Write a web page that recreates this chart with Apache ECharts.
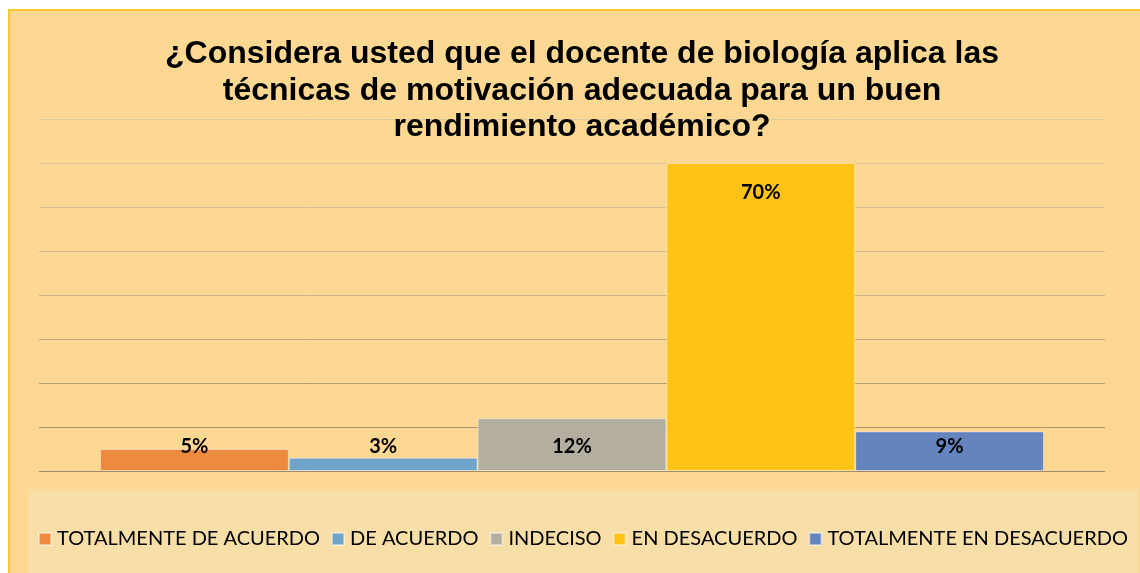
<!DOCTYPE html>
<html>
<head>
<meta charset="utf-8">
<script src="https://cdn.jsdelivr.net/npm/echarts@6/dist/echarts.min.js"></script>
<style>
html,body{margin:0;padding:0;background:#ffffff;}
#chart{width:1140px;height:573px;}
</style>
</head>
<body>
<div id="chart"></div>
<script>
var categories = [''];
var seriesNames = ['TOTALMENTE DE ACUERDO', 'DE ACUERDO', 'INDECISO', 'EN DESACUERDO', 'TOTALMENTE EN DESACUERDO'];
var seriesValues = [5, 3, 12, 70, 9];
var seriesColors = ['#EE8A3D', '#72A4C9', '#B3AEA0', '#FFC317', '#6584BD'];
var titleText = '¿Considera usted que el docente de biología aplica las\ntécnicas de motivación adecuada para un buen\nrendimiento académico?';

var chart = echarts.init(document.getElementById('chart'), null, {renderer: 'canvas'});

var series = seriesNames.map(function (name, i) {
  var big = seriesValues[i] > 20;
  return {
    name: name,
    type: 'bar',
    data: [seriesValues[i]],
    barGap: '0%',
    barCategoryGap: '11.45%',
    itemStyle: {color: seriesColors[i], borderColor: 'rgba(255,255,255,0.45)', borderWidth: 1},
    label: {
      show: true,
      position: big ? 'insideTop' : 'insideBottom',
      distance: big ? 20 : 14,
      formatter: '{c}%',
      fontFamily: 'Lato',
      fontWeight: 'bold',
      fontSize: 20,
      color: '#000000'
    }
  };
});

var option = {
  animation: false,
  backgroundColor: 'transparent',
  graphic: [
    {type: 'rect', z: -10, shape: {x: 9, y: 10, width: 1140, height: 570},
     style: {fill: '#FDD893', stroke: '#FFC72C', lineWidth: 2}},
    {type: 'rect', z: -9, shape: {x: 28, y: 489, width: 1110, height: 90},
     style: {fill: '#F8DFA8'}}
  ],
  title: {
    text: titleText,
    left: 577,
    top: 31,
    textAlign: 'center',
    textStyle: {fontFamily: 'Liberation Sans', fontWeight: 'bold', fontSize: 32, lineHeight: 36.5, color: '#000000'}
  },
  legend: {
    data: seriesNames,
    left: 33,
    top: 524,
    width: 1105,
    padding: 5,
    itemWidth: 12,
    itemHeight: 12,
    itemGap: 11,
    icon: 'rect',
    textStyle: {fontFamily: 'Lato', fontSize: 20, color: '#000000', padding: [0, 0, 0, 1]}
  },
  grid: {left: 39, right: 35, top: 119, bottom: 102, containLabel: false},
  xAxis: {
    type: 'category',
    data: categories,
    axisLine: {show: false},
    axisTick: {show: false},
    axisLabel: {show: false}
  },
  yAxis: {
    type: 'value',
    min: 0,
    max: 80,
    interval: 10,
    axisLabel: {show: false},
    axisLine: {show: false},
    axisTick: {show: false},
    splitLine: {show: true, lineStyle: {width: 1, color: ['#9E8C6A', '#A8946F', '#B39D76', '#BEA77E', '#C8B186', '#D1BA8E', '#D8C196', '#DCC59B', '#DEC89F']}}
  },
  series: series
};
chart.setOption(option);
</script>
</body>
</html>
